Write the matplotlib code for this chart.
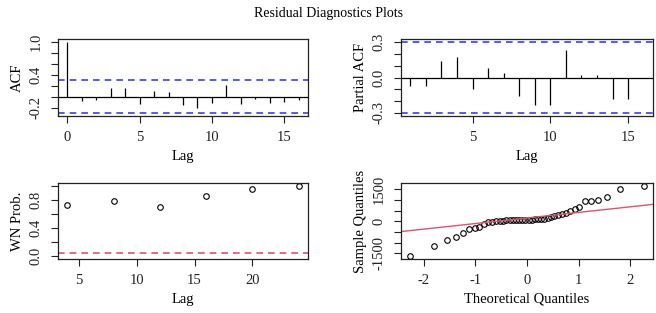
"""
Residual-Diagnose (ACF, PACF, Ljung-Box p-Werte, Normal-QQ) im Stil von R.
Speichert out.png.
"""

from statistics import NormalDist

import numpy as np
import matplotlib
matplotlib.use("Agg")
import matplotlib.pyplot as plt
from matplotlib.ticker import FixedLocator, FixedFormatter

plt.rcParams["font.family"] = ["Liberation Serif", "DejaVu Serif"]
plt.rcParams["font.size"] = 10.5
plt.rcParams["axes.unicode_minus"] = False

# --- Daten ---
acf_lags = list(range(0, 17))
acf_vals = [1.0, -0.08, -0.06, 0.16, 0.16, -0.14, 0.11, 0.09, -0.16,
            -0.20, -0.12, 0.21, -0.13, -0.04, -0.12, -0.10, -0.07]
pacf_lags = list(range(1, 17))
pacf_vals = [-0.075, -0.07, 0.14, 0.17, -0.10, 0.083, 0.036, -0.16,
             -0.236, -0.236, 0.23, 0.02, 0.025, -0.18, -0.186, -0.005]
ci = 0.302                               # 1.96 / sqrt(42)

wn_lags = [4, 8, 12, 16, 20, 24]
wn_prob = [0.725, 0.79, 0.70, 0.857, 0.96, 0.998]
wn_level = 0.05

resid_sorted = [-1640, -1160, -900, -720, -540, -340, -300, -260, -139,
                -46, -28, 0, 32, 35, 40, 42, 45, 45, 48, 50, 55, 60, 70,
                85, 105, 120, 130, 170, 200, 250, 310, 340, 370, 495, 590,
                680, 944, 950, 1005, 1144, 1514, 1667]

BLUE = "#3b3bff"
RED = "#DF536B"
LW = 0.9
W, H = 656, 313


def box(l, r, t, b):
    return [l / W, 1 - b / H, (r - l) / W, (b - t) / H]


def style(ax):
    for s in ax.spines.values():
        s.set_linewidth(0.9)
        s.set_color("#222222")
    ax.tick_params(direction="out", length=5, width=0.8, pad=6, colors="#222222")
    for lab in ax.get_yticklabels():
        lab.set_rotation(90)
        lab.set_va("center")


def set_yticks(ax, ticks, labels):
    ax.yaxis.set_major_locator(FixedLocator(ticks))
    ax.yaxis.set_major_formatter(FixedFormatter(labels))


def pad(lo, hi, f=0.04):
    d = (hi - lo) * f
    return lo - d, hi + d


fig = plt.figure(figsize=(W / 100, H / 100), dpi=100)
fig.text(0.5, 1 - 13 / H, "Residual Diagnostics Plots", ha="center", va="center", fontsize=10)

# ACF
ax1 = fig.add_axes(box(58, 308, 39, 116))
ax1.vlines(acf_lags, 0, acf_vals, color="black", lw=LW)
ax1.axhline(0, color="black", lw=LW)
for c in (ci, -ci):
    ax1.axhline(c, color=BLUE, lw=1.2, ls=(0, (4, 3)))
ax1.set_xlim(*pad(min(acf_lags), max(acf_lags)))
ax1.set_ylim(*pad(-ci, max(acf_vals)))
ax1.set_xticks([0, 5, 10, 15])
set_yticks(ax1, [-0.2, 0.0, 0.2, 0.4, 0.6, 0.8, 1.0],
           ["-0.2", "", "", "0.4", "", "", "1.0"])
ax1.set_xlabel("Lag", labelpad=4)
ax1.set_ylabel("ACF", labelpad=4)
style(ax1)

# PACF
ax2 = fig.add_axes(box(401, 653, 39, 116))
ax2.vlines(pacf_lags, 0, pacf_vals, color="black", lw=LW)
ax2.axhline(0, color="black", lw=LW)
for c in (ci, -ci):
    ax2.axhline(c, color=BLUE, lw=1.2, ls=(0, (4, 3)))
ax2.set_xlim(*pad(min(pacf_lags), max(pacf_lags)))
ax2.set_ylim(*pad(-ci, ci))
ax2.set_xticks([5, 10, 15])
set_yticks(ax2, [-0.3, -0.2, -0.1, 0.0, 0.1, 0.2, 0.3],
           ["-0.3", "", "", "0.0", "", "", "0.3"])
ax2.set_xlabel("Lag", labelpad=4)
ax2.set_ylabel("Partial ACF", labelpad=4)
style(ax2)

# Ljung-Box p-Werte
ax3 = fig.add_axes(box(58, 308, 183, 259))
ax3.plot(wn_lags, wn_prob, ls="none", marker="o", ms=4, mfc="none",
         mec="black", mew=0.8)
ax3.axhline(wn_level, color=RED, lw=1.2, ls=(0, (4, 3)))
ax3.set_xlim(*pad(min(wn_lags), max(wn_lags)))
ax3.set_ylim(*pad(0, 1))
ax3.set_xticks([5, 10, 15, 20])
set_yticks(ax3, [0.0, 0.2, 0.4, 0.6, 0.8, 1.0],
           ["0.0", "", "0.4", "", "0.8", ""])
ax3.set_xlabel("Lag", labelpad=4)
ax3.set_ylabel("WN Prob.", labelpad=4)
style(ax3)

# Normal-QQ
n = len(resid_sorted)
theo = [NormalDist().inv_cdf((i + 0.5) / n) for i in range(n)]
ax4 = fig.add_axes(box(401, 653, 183, 259))
ax4.plot(theo, resid_sorted, ls="none", marker="o", ms=4, mfc="none",
         mec="black", mew=0.8)
ax4.set_xlim(*pad(min(theo), max(theo)))
ax4.set_ylim(*pad(min(resid_sorted), max(resid_sorted)))
q1, q3 = np.percentile(resid_sorted, [25, 75])
z1, z3 = NormalDist().inv_cdf(0.25), NormalDist().inv_cdf(0.75)
slope = (q3 - q1) / (z3 - z1)
ax4.axline((z1, q1), slope=slope, color=RED, lw=1.0)
ax4.set_xticks([-2, -1, 0, 1, 2])
set_yticks(ax4, [-1500, -1000, -500, 0, 500, 1000, 1500],
           ["-1500", "", "", "0", "", "", "1500"])
ax4.set_xlabel("Theoretical Quantiles", labelpad=4)
ax4.set_ylabel("Sample Quantiles", labelpad=4)
style(ax4)

fig.savefig("out.png", dpi=100)
